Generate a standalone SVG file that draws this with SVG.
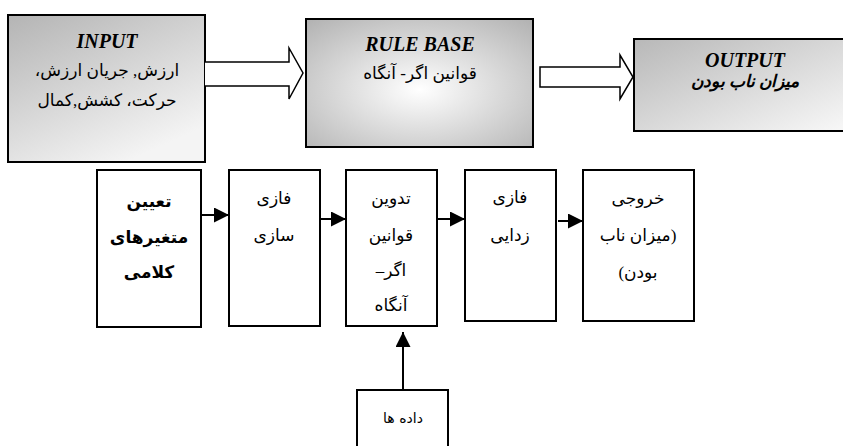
<svg xmlns="http://www.w3.org/2000/svg" width="843" height="446" viewBox="0 0 843 446">
<defs>
<linearGradient id="gIn" x1="0" y1="0" x2="0.6" y2="1">
<stop offset="0" stop-color="#b4b4b4"/>
<stop offset="1" stop-color="#f4f4f4"/>
</linearGradient>
<radialGradient id="gRule" cx="0.5" cy="0.55" r="0.75">
<stop offset="0" stop-color="#ffffff"/>
<stop offset="1" stop-color="#b0b0b0"/>
</radialGradient>
<linearGradient id="gOut" x1="0" y1="0" x2="1" y2="1">
<stop offset="0" stop-color="#b8b8b8"/>
<stop offset="1" stop-color="#f8f8f8"/>
</linearGradient>
<marker id="ah" viewBox="0 0 10 10" refX="10" refY="5" markerWidth="15" markerHeight="15" markerUnits="userSpaceOnUse" orient="auto">
<path d="M0,0 L10,5 L0,10 z" fill="#000"/>
</marker>
<style>
.big{stroke:#000;stroke-width:2}
.box{fill:#fff;stroke:#000;stroke-width:2}
.fa{font-family:"Liberation Serif","DejaVu Serif","DejaVu Sans",serif;font-size:17px;fill:#000;text-anchor:middle;direction:rtl;unicode-bidi:embed}
.fab{font-weight:bold}
.title{font-family:"Liberation Serif",serif;font-weight:bold;font-style:italic;font-size:20px;text-anchor:middle;fill:#000}
.conn{stroke:#000;stroke-width:2;fill:none}
.fat{stroke:#000;stroke-width:1.5;fill:#fff}
</style>
</defs>
<rect width="843" height="446" fill="#fff"/>

<g id="input">
<rect x="8" y="15" width="197" height="147" fill="url(#gIn)" class="big"/>
<text x="107" y="48" class="title">INPUT</text>
<text x="107" y="76" class="fa">ارزش, جریان ارزش،</text>
<text x="107" y="106" class="fa">حرکت، کشش,کمال</text>
</g>

<g id="rulebase">
<rect x="306" y="19" width="227" height="128" fill="url(#gRule)" class="big"/>
<text x="420" y="51" class="title" font-size="21">RULE BASE</text>
<text x="420" y="79" class="fa">قوانین اگر- آنگاه</text>
</g>

<g id="output">
<rect x="634" y="39" width="212" height="92" fill="url(#gOut)" class="big"/>
<text x="745" y="67" class="title">OUTPUT</text>
<text x="745" y="87" class="fa fab" font-size="15" font-style="italic">میزان ناب بودن</text>
</g>

<g id="n1">
<rect x="97" y="170" width="104" height="157" class="box"/>
<text x="149" y="207" class="fa fab">تعیین</text>
<text x="149" y="243" class="fa fab">متغیرهای</text>
<text x="149" y="278" class="fa fab">کلامی</text>
</g>
<g id="n2">
<rect x="229" y="170" width="91" height="156" class="box"/>
<text x="274" y="204" class="fa">فازی</text>
<text x="274" y="241" class="fa">سازی</text>
</g>
<g id="n3">
<rect x="346" y="170" width="91" height="156" class="box"/>
<text x="391" y="204" class="fa">تدوین</text>
<text x="391" y="241" class="fa">قوانین</text>
<text x="391" y="276" class="fa">اگر–</text>
<text x="391" y="311" class="fa">آنگاه</text>
</g>
<g id="n4">
<rect x="465" y="170" width="91" height="151" class="box"/>
<text x="510" y="203" class="fa">فازی</text>
<text x="510" y="241" class="fa">زدایی</text>
</g>
<g id="n5">
<rect x="583" y="170" width="111" height="151" class="box"/>
<text x="638" y="204" class="fa">خروجی</text>
<text x="638" y="241" class="fa">(میزان ناب</text>
<text x="638" y="278" class="fa">بودن)</text>
</g>
<g id="data">
<rect x="357" y="390" width="91" height="70" class="box"/>
<text x="403" y="423" font-family="'DejaVu Sans',sans-serif" font-size="14" text-anchor="middle" direction="rtl">داده ها</text>
</g>

<g id="connectors">
<path class="fat" d="M205,62 L289,62 L289,48 L303,73 L289,99 L289,86 L205,86"/>
<path class="fat" d="M540,67 L620,67 L620,55 L633,77 L620,99 L620,87 L540,87 z"/>
<line class="conn" x1="201" y1="215" x2="229" y2="215" marker-end="url(#ah)"/>
<line class="conn" x1="320" y1="219" x2="346" y2="219" marker-end="url(#ah)"/>
<line class="conn" x1="437" y1="219" x2="465" y2="219" marker-end="url(#ah)"/>
<line class="conn" x1="558" y1="221" x2="583" y2="221" marker-end="url(#ah)"/>
<line class="conn" x1="403" y1="390" x2="403" y2="332" marker-end="url(#ah)"/>
</g>
</svg>
